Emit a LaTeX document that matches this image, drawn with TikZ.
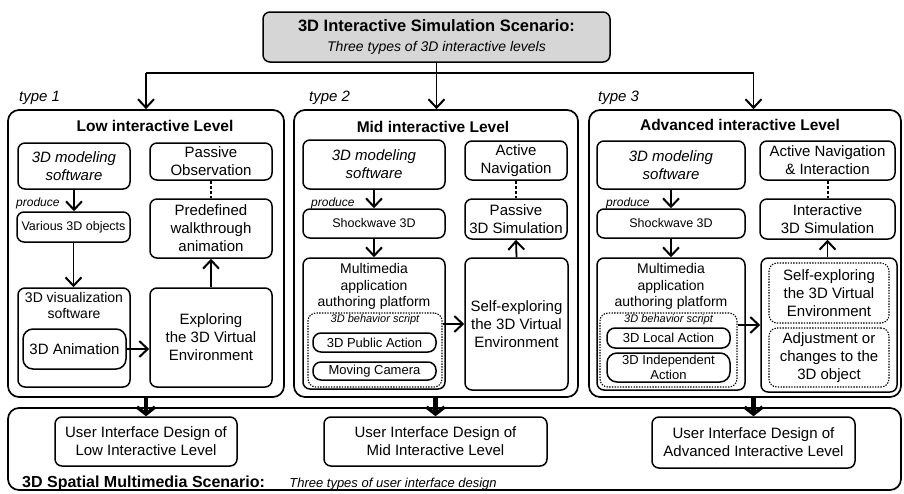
\documentclass[tikz,border=0pt]{standalone}
\usepackage{fontspec}
\setmainfont{Liberation Sans}
\usepackage{xcolor}
\usetikzlibrary{arrows.meta,positioning}

\definecolor{titlegray}{HTML}{D6D6D6}

\tikzset{
  wh/.style 2 args={minimum width=#1pt, minimum height=#2pt},
  box/.style={draw, line width=1.5pt, rounded corners=7pt, align=center, inner sep=0pt,
    font=\fontsize{15}{18}\selectfont},
  level/.style={draw, line width=1.7pt, rounded corners=11pt, inner sep=0pt},
  dotbox/.style={draw, line width=1.1pt, dash pattern=on 1.4pt off 1.3pt, rounded corners=8pt,
    align=center, inner sep=0pt, font=\fontsize{15}{18}\selectfont},
  soft/.style={font=\itshape\fontsize{15}{18}\selectfont},
  small/.style={font=\fontsize{12.5}{15}\selectfont},
  action/.style={font=\fontsize{13}{14.5}\selectfont, rounded corners=8pt},
  head/.style={font=\bfseries\fontsize{15.5}{18}\selectfont, inner sep=0pt},
  typelbl/.style={font=\itshape\fontsize{15}{18}\selectfont, inner sep=0pt, anchor=west},
  produce/.style={font=\itshape\fontsize{12}{14}\selectfont, inner sep=0pt, anchor=west},
  plat/.style={font=\fontsize{14}{16.5}\selectfont, align=center, inner sep=0pt, anchor=north},
  script/.style={font=\itshape\fontsize{11}{13}\selectfont, inner sep=0pt, anchor=north},
  arr/.style={line width=1.8pt, -{Straight Barb[length=8.5pt,width=16pt,line width=2pt]}},
  bigarr/.style={line width=4.5pt, -{Straight Barb[length=7pt,width=18pt,line width=3.5pt]}},
  link/.style={line width=2pt, dash pattern=on 3pt off 2pt}
}

\begin{document}
\begin{tikzpicture}[x=1pt, y=-1pt]
    \useasboundingbox (0,0) rectangle (904,493);

    % Scenario on top
    \node[box, fill=titlegray, wh={347}{50}, font=\itshape\fontsize{14}{20}\selectfont] (scn) at (436.5,37)
        {{\upshape\bfseries\fontsize{16.5}{20}\selectfont 3D Interactive Simulation Scenario:}\\Three types of 3D interactive levels};

    % The three levels
    \node[level, wh={276}{287}] (lvl1) at (146,253.5) {};
    \node[level, wh={284}{287}] (lvl2) at (436,253.5) {};
    \node[level, wh={312}{287}] (lvl3) at (745,253.5) {};
    \node[head] (h1) at (155,126) {Low interactive Level};
    \node[head] (h2) at (433,127) {Mid interactive Level};
    \node[head] (h3) at (740,125) {Advanced interactive Level};
    \node[typelbl] (ty1) at (19,98) {type 1};
    \node[typelbl] (ty2) at (309,98) {type 2};
    \node[typelbl] (ty3) at (598,98) {type 3};

    % Bottom scenario
    \node[level, wh={893}{82}] (spatial) at (454.5,449) {};
    \node[box, wh={182}{49}] (ui1) at (146,441.5) {User Interface Design of\\Low Interactive Level};
    \node[box, wh={223}{49}] (ui2) at (435.5,441.5) {User Interface Design of\\Mid Interactive Level};
    \node[box, wh={203}{51}] (ui3) at (753.5,442.5) {User Interface Design of\\Advanced Interactive Level};
    \node[anchor=base west, inner sep=0pt, font=\bfseries\fontsize{16}{18}\selectfont] (sp) at (22,487)
        {3D Spatial Multimedia Scenario:};
    \node[right=24pt of sp.base east, anchor=base west, inner sep=0pt, font=\itshape\fontsize{13}{15}\selectfont] (spsub)
        {Three types of user interface design};

    % Level 1
    \node[box, soft, wh={112}{46}] (mod1) at (74,166) {3D modeling\\software};
    \node[box, wh={122}{37}] (obs1) at (211,161.5) {Passive\\Observation};
    \node[box, wh={122}{59}] (pre1) at (211,228.5) {Predefined\\walkthrough\\animation};
    \node[box, small, wh={113}{30}] (var1) at (73.5,227) {Various 3D objects};
    \node[box, wh={112}{99}] (vis1) at (74,337.5) {};
    \node[plat, font=\fontsize{14}{16}\selectfont] (vis1t) at ([yshift=-5pt]vis1.north) {3D visualization\\software};
    \node[box, wh={103}{40}, rounded corners=10pt] (ani1) at (74.5,349) {3D Animation};
    \node[box, wh={122}{99}] (exp1) at (211,337.5) {Exploring\\the 3D Virtual\\Environment};
    \node[produce] (pr1) at (16,203) {produce};

    % Level 2
    \node[box, soft, wh={142}{49}] (mod2) at (374,164.5) {3D modeling\\software};
    \node[box, wh={102}{39}] (nav2) at (516,160.5) {Active\\Navigation};
    \node[box, wh={102}{40}] (sim2) at (516,219) {Passive\\3D Simulation};
    \node[box, small, wh={142}{29}] (sw2) at (374,223.5) {Shockwave 3D};
    \node[box, wh={142}{131}] (mm2) at (374,323.5) {};
    \node[plat] (mm2t) at ([yshift=-6pt]mm2.north) {Multimedia\\application\\authoring platform};
    \node[dotbox, wh={134}{74}] (scr2) at (375,350) {};
    \node[script] (scr2t) at ([yshift=-2pt]scr2.north) {3D behavior script};
    \node[box, action, wh={123}{19}] (pub2) at (374.5,342.5) {3D Public Action};
    \node[box, action, wh={123}{18}] (cam2) at (374.5,371) {Moving Camera};
    \node[box, wh={103}{132}] (exp2) at (516.5,324) {Self-exploring\\the 3D Virtual\\Environment};
    \node[produce] (pr2) at (311,203) {produce};

    % Level 3
    \node[box, soft, wh={148}{48}] (mod3) at (671,165) {3D modeling\\software};
    \node[box, wh={135}{39}] (nav3) at (827.5,160.5) {Active Navigation\\\& Interaction};
    \node[box, wh={135}{40}] (sim3) at (827.5,219) {Interactive\\3D Simulation};
    \node[box, small, wh={148}{29}] (sw3) at (671,223.5) {Shockwave 3D};
    \node[box, wh={148}{132}] (mm3) at (671,324) {};
    \node[plat] (mm3t) at ([yshift=-6pt]mm3.north) {Multimedia\\application\\authoring platform};
    \node[dotbox, wh={137}{74}] (scr3) at (668.5,350) {};
    \node[script] (scr3t) at ([yshift=-2pt]scr3.north) {3D behavior script};
    \node[box, action, wh={123}{20}] (loc3) at (668.5,338) {3D Local Action};
    \node[box, action, wh={123}{29}, rounded corners=10pt] (ind3) at (668.5,367.5) {3D Independent\\Action};
    \node[box, wh={136}{134}] (out3) at (829,325) {};
    \node[dotbox, wh={120}{60}] (self3) at (829,293) {Self-exploring\\the 3D Virtual\\Environment};
    \node[dotbox, wh={120}{59}] (adj3) at (829,357.5) {Adjustment or\\changes to the\\3D object};
    \node[produce] (pr3) at (606,203) {produce};

    % Fork from the scenario to the levels
    \coordinate (split) at (436.5,73);
    \draw[line width=1.8pt] (scn.south) -- (split);
    \draw[line width=1.8pt] (split -| ui1.north) -- (split -| ui3.north);
    \draw[arr] (split -| ui1.north) -- (ui1.north |- lvl1.north);
    \draw[arr] (split) -- (split |- lvl2.north);
    \draw[arr] (split -| ui3.north) -- (ui3.north |- lvl3.north);

    % Levels down to the interface designs
    \draw[bigarr] (lvl1.south -| ui1.north) -- (ui1.north);
    \draw[bigarr] (lvl2.south -| ui2.north) -- (ui2.north);
    \draw[bigarr] (lvl3.south -| ui3.north) -- (ui3.north);

    % Inside level 1
    \draw[arr] (mod1.south) -- (mod1.south |- var1.north);
    \draw[arr] (var1.south) -- (var1.south |- vis1.north);
    \draw[arr] (ani1.east) -- (ani1.east -| exp1.west);
    \draw[arr] (exp1.north) -- (pre1.south);
    \draw[link] (obs1.south) -- (pre1.north);

    % Inside level 2
    \draw[arr] (mod2.south) -- (sw2.north);
    \draw[arr] (sw2.south) -- (mm2.north);
    \draw[arr] (scr2.east |- exp2.west) -- (exp2.west);
    \draw[arr] (exp2.north) -- (sim2.south);
    \draw[link] (nav2.south) -- (sim2.north);

    % Inside level 3
    \draw[arr] (mod3.south) -- (sw3.north);
    \draw[arr] (sw3.south) -- (mm3.north);
    \draw[arr] (scr3.east |- out3.west) -- (out3.west);
    \draw[arr] (out3.north -| sim3.south) -- (sim3.south);
    \draw[link] (nav3.south) -- (sim3.north);
\end{tikzpicture}
\end{document}
